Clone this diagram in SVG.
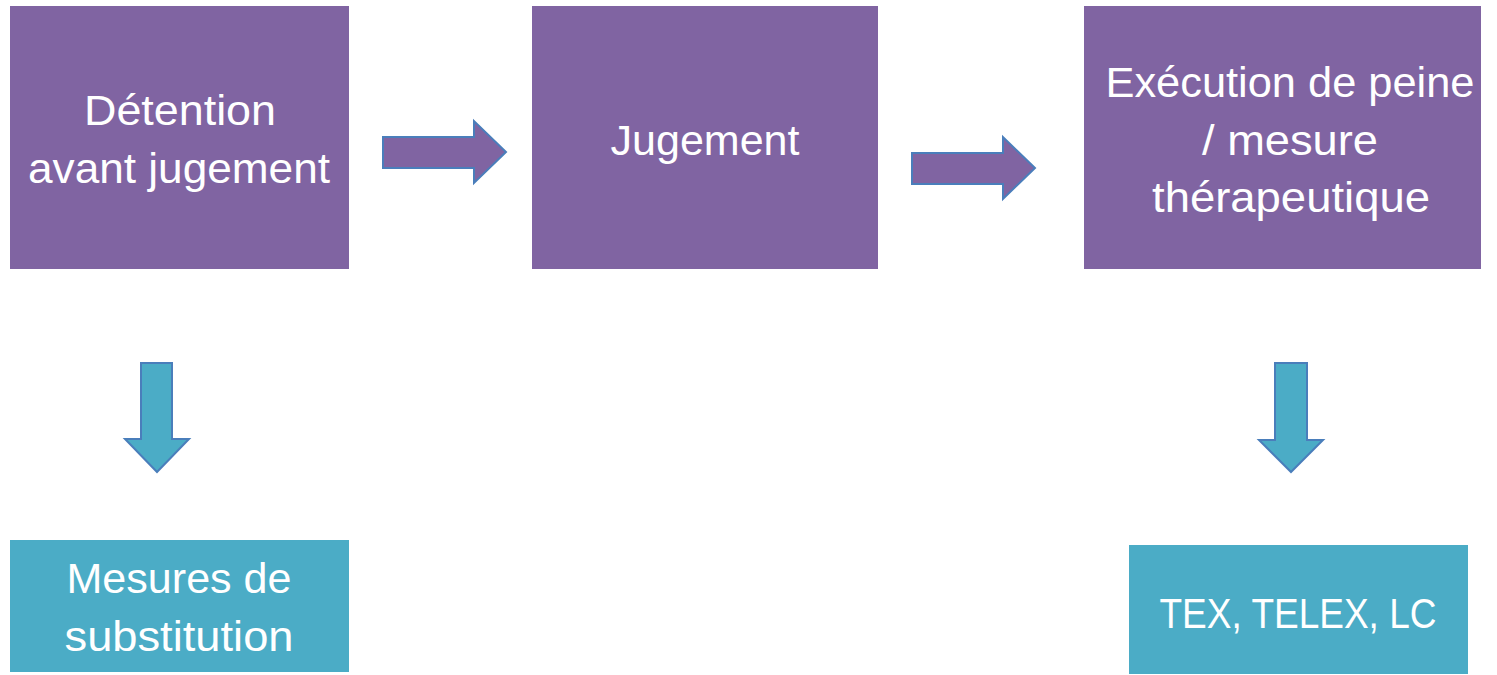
<svg xmlns="http://www.w3.org/2000/svg" width="1497" height="675" viewBox="0 0 1497 675">
<style>
.p{fill:#8064A2}
.b{fill:#4BACC6}
.t{font-family:"Liberation Sans",Arial,sans-serif;font-size:42px;fill:#fff;text-anchor:middle}
.ap{fill:#8064A2;stroke:#4A7EBB;stroke-width:2;stroke-linejoin:miter}
.ab{fill:#4BACC6;stroke:#4A7EBB;stroke-width:2;stroke-linejoin:miter}
</style>
<rect width="1497" height="675" fill="#fff"/>
<g id="n1"><rect class="p" x="10" y="6" width="339" height="263"/>
<text class="t" x="180" y="125" textLength="192" lengthAdjust="spacingAndGlyphs">Détention</text>
<text class="t" x="179" y="183" textLength="302" lengthAdjust="spacingAndGlyphs">avant jugement</text></g>
<g id="n2"><rect class="p" x="532" y="6" width="346" height="263"/>
<text class="t" x="705" y="155" textLength="189" lengthAdjust="spacingAndGlyphs">Jugement</text></g>
<g id="n3"><rect class="p" x="1084" y="6" width="397" height="263"/>
<text class="t" x="1290" y="97" textLength="369" lengthAdjust="spacingAndGlyphs">Exécution de peine</text>
<text class="t" x="1290" y="155" textLength="176" lengthAdjust="spacingAndGlyphs">/ mesure</text>
<text class="t" x="1291" y="212" textLength="278" lengthAdjust="spacingAndGlyphs">thérapeutique</text></g>
<g id="n4"><rect class="b" x="10" y="540" width="339" height="132"/>
<text class="t" x="179" y="593" textLength="225" lengthAdjust="spacingAndGlyphs">Mesures de</text>
<text class="t" x="179" y="651" textLength="229" lengthAdjust="spacingAndGlyphs">substitution</text></g>
<g id="n5"><rect class="b" x="1129" y="545" width="339" height="129"/>
<text class="t" x="1298" y="628" textLength="277" lengthAdjust="spacingAndGlyphs">TEX, TELEX, LC</text></g>
<g id="connectors">
<polygon class="ap" points="383,137 474,137 474,121 506,152 474,183 474,168 383,168"/>
<polygon class="ap" points="912,153 1003,153 1003,137 1035,168 1003,199 1003,184 912,184"/>
<polygon class="ab" points="141,363 172,363 172,439 189,439 157,472 125,439 141,439"/>
<polygon class="ab" points="1275,363 1307,363 1307,440 1323,440 1291,472 1259,440 1275,440"/>
</g>
</svg>
